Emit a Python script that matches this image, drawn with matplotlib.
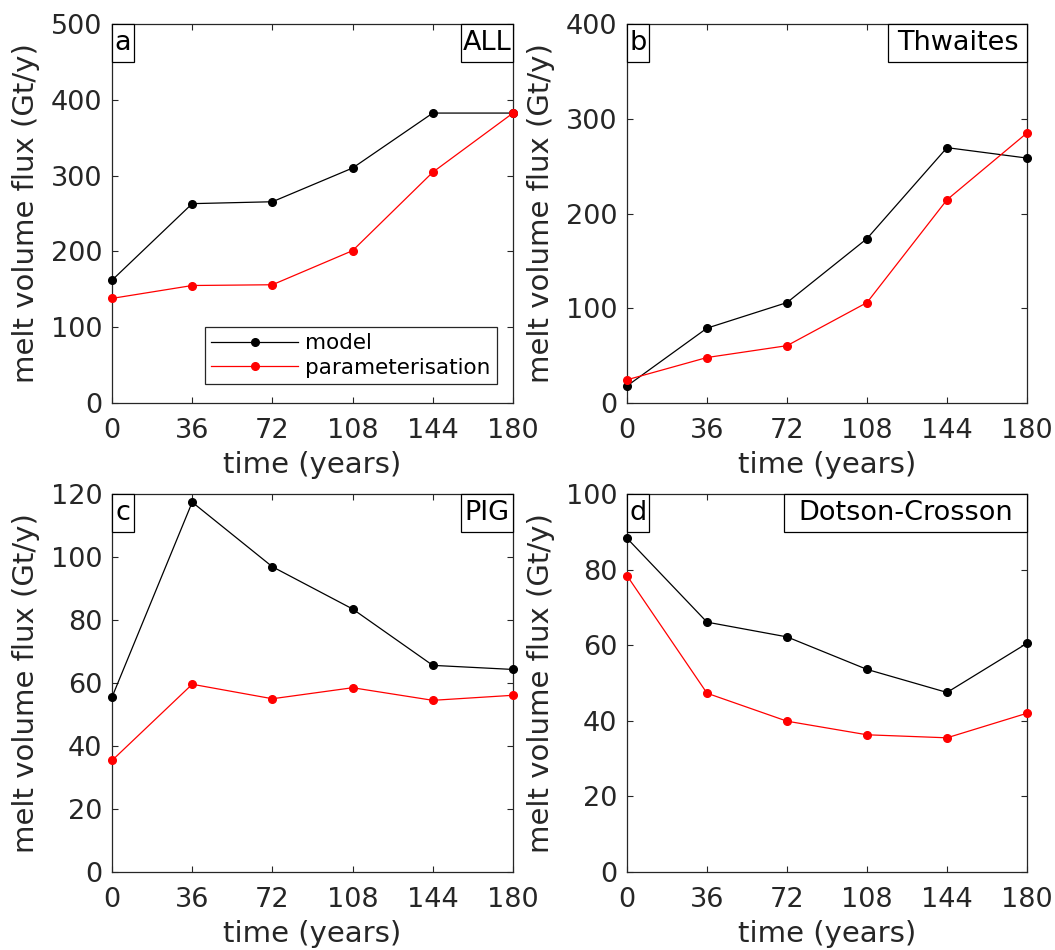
import matplotlib
matplotlib.use("Agg")
import matplotlib.pyplot as plt
from matplotlib.patches import Rectangle

plt.rcParams['font.family'] = ['DejaVu Sans']

time = [0, 36, 72, 108, 144, 180]
xticks = [0, 36, 72, 108, 144, 180]

all_model = [162, 263, 265.5, 310, 382.5, 382.5]
all_param = [138, 155, 156, 201, 304.5, 382.5]

thw_model = [18, 79, 106, 173.5, 269.5, 258.5]
thw_param = [24.5, 48, 60.5, 106, 214.5, 285]

pig_model = [55.5, 117.4, 96.9, 83.5, 65.6, 64.3]
pig_param = [35.4, 59.6, 55.0, 58.5, 54.5, 56.1]

dc_model = [88.3, 66.1, 62.2, 53.6, 47.5, 60.5]
dc_param = [78.4, 47.3, 39.9, 36.3, 35.5, 42.0]

panels = [
    ("a", "ALL", all_model, all_param, 500, [0, 100, 200, 300, 400, 500]),
    ("b", "Thwaites", thw_model, thw_param, 400, [0, 100, 200, 300, 400]),
    ("c", "PIG", pig_model, pig_param, 120, [0, 20, 40, 60, 80, 100, 120]),
    ("d", "Dotson-Crosson", dc_model, dc_param, 100, [0, 20, 40, 60, 80, 100]),
]

W, H = 1055, 950
fig = plt.figure(figsize=(W / 100, H / 100), dpi=100)

# axes rectangles in pixels (left, top, right, bottom)
rects = [(112, 24, 513, 403), (627, 24, 1027, 403),
         (112, 494, 513, 872), (627, 494, 1027, 872)]
name_box_w = [52.3, 139, 52.3, 243]

gray = '#262626'
for i, (lab, name, mod, par, ymax, yt) in enumerate(panels):
    l, t, r, b = rects[i]
    ax = fig.add_axes([l / W, (H - b) / H, (r - l) / W, (b - t) / H])
    ax.plot(time, mod, '-o', color='k', lw=0.9, ms=5.5, clip_on=False, zorder=3, label='model')
    ax.plot(time, par, '-o', color='#ff0000', lw=0.9, ms=5.5, clip_on=False, zorder=3, label='parameterisation')
    ax.set_xlim(0, 180)
    ax.set_ylim(0, ymax)
    ax.set_xticks(xticks)
    ax.set_yticks(yt)
    ax.tick_params(direction='in', length=4, width=0.8, top=True, right=True,
                   labelsize=19.5, colors=gray, labelcolor=gray)
    ax.tick_params(axis='x', pad=11)
    ax.tick_params(axis='y', pad=7)
    for s in ax.spines.values():
        s.set_color(gray)
        s.set_linewidth(0.9)
    ax.set_xlabel('time (years)', fontsize=21, color=gray, labelpad=5)
    ax.set_ylabel('melt volume flux (Gt/y)', fontsize=21, color=gray, labelpad=8)

    bh = 38 / (b - t)
    # panel letter box
    bw = 22 / (r - l)
    ax.add_patch(Rectangle((0, 1 - bh), bw, bh, transform=ax.transAxes, fill=True,
                           fc='white', ec='k', lw=0.9, zorder=5, clip_on=False))
    ax.text(bw / 2, 1 - bh / 2, lab, transform=ax.transAxes, ha='center', va='center',
            fontsize=19.5, color='k', zorder=6)
    # name box
    nw = name_box_w[i] / (r - l)
    ax.add_patch(Rectangle((1 - nw, 1 - bh), nw, bh, transform=ax.transAxes, fill=True,
                           fc='white', ec='k', lw=0.9, zorder=5, clip_on=False))
    ax.text(1 - nw / 2, 1 - bh / 2, name, transform=ax.transAxes, ha='center', va='center',
            fontsize=19.5, color='k', zorder=6)

    if i == 0:
        leg = ax.legend(loc='lower right', bbox_to_anchor=(0.96, 0.05), fontsize=15.5,
                        handlelength=4.0, handletextpad=0.35, borderpad=0.3,
                        labelspacing=0.2, fancybox=False, framealpha=1,
                        edgecolor=gray, borderaxespad=0)
        leg.get_frame().set_linewidth(0.9)
        for t_ in leg.get_texts():
            t_.set_color('k')

fig.savefig('out.png', dpi=100)
